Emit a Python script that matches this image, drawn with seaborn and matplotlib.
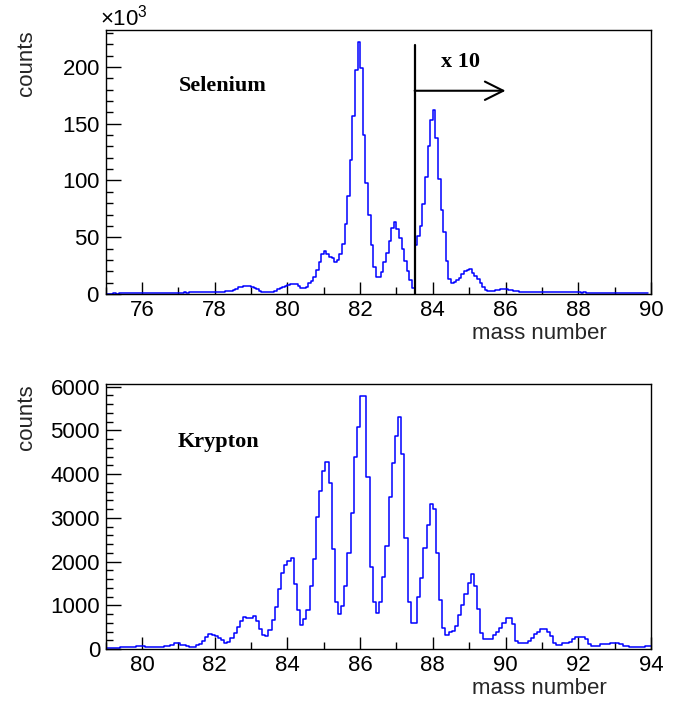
import numpy as np
import pandas as pd
import matplotlib
matplotlib.use("Agg")
import matplotlib.pyplot as plt
import seaborn as sns
from matplotlib.ticker import MultipleLocator, ScalarFormatter

# ---------------- data ----------------
# Selenium spectrum: displayed counts per bin in thousands (bins of 1/14 mass unit from 75;
# the part right of 83.5 is shown multiplied by 10, as in the original)
se_counts_k = [
    0.3, 0.4, 0.3, 0.5, 0.4, 0.5, 0.6, 0.5, 0.6, 0.7,
    0.6, 0.7, 0.8, 0.7, 0.8, 0.9, 0.8, 0.9, 1.0, 0.9,
    1.0, 1.1, 1.0, 1.1, 1.2, 1.1, 1.2, 1.3, 1.2, 1.3,
    1.4, 1.3, 1.4, 1.5, 1.4, 1.5, 1.6, 1.5, 1.6, 1.7,
    1.8, 1.9, 2.0, 2.0, 2.1, 2.2, 2.3, 2.5, 3.0, 3.8,
    4.8, 5.8, 6.6, 7.2, 7.4, 7.2, 6.5, 5.5, 4.2, 3.0,
    2.2, 1.6, 1.4, 1.5, 2.0, 3.0, 4.0, 5.0, 5.8, 7.0,
    8.2, 8.8, 8.8, 8.8, 7.0, 5.0, 5.0, 6.6, 9.6, 11.7,
    15, 21, 28, 35.5, 38, 35, 33, 31.6, 28, 29.8,
    35, 44, 62, 86, 118, 157, 197, 222, 199, 140,
    98, 70, 43, 24, 15, 15, 19, 28, 36, 47,
    58, 63, 57, 49, 40, 29, 20, 12, 5,
    43, 51, 60, 79, 103, 130, 153, 162, 137, 101,
    74, 55, 29, 13, 9.6, 10.7, 12, 14.5, 17.5, 20,
    21.5, 22, 18.6, 15.7, 13, 9.6, 5.8, 3.8, 2.9, 2.9,
    3.0, 3.2, 3.5, 4.0, 4.2, 4.2, 3.8, 3.3, 2.8, 2.3,
    2.0, 1.8, 1.7, 1.7, 1.6, 1.7, 1.6, 1.5, 1.6, 1.5,
    1.6, 1.7, 1.8, 1.9, 2.0, 2.0, 1.9, 1.8, 1.7, 1.6,
    1.5, 1.5, 1.4, 1.4, 1.3, 1.4, 1.3, 1.3, 1.2, 1.3,
    1.2, 1.2, 1.1, 1.2, 1.1, 1.1, 1.0, 1.1, 1.0, 1.0,
    1.0, 0.9, 1.0, 0.9, 0.9, 0.8, 0.9, 0.8, 0.8, 0.8,
]

# Krypton spectrum: counts per bin (bins of 2/23 mass unit, edges aligned on 84)
kr_counts = [
    23, 25, 25, 23, 25, 35, 40, 40, 42, 55,
    69, 69, 60, 53, 53, 50, 40, 38, 40, 60,
    69, 85, 130, 130, 100, 92, 70, 53, 55, 92,
    110, 191, 282, 343, 330, 300, 244, 206, 145, 170,
    244, 358, 511, 648, 740, 701, 701, 763, 648, 458,
    313, 297, 435, 664, 968, 1373, 1732, 1922, 2014, 2075,
    1488, 892, 549, 679, 892, 1442, 2060, 3013, 3623, 4081,
    4287, 3791, 2281, 1083, 793, 984, 1442, 2205, 3120, 4387,
    5066, 5789, 5789, 3929, 1869, 1083, 816, 1083, 1640, 2357,
    3471, 4264, 4875, 5302, 4463, 2532, 1083, 587, 587, 1182,
    1617, 2304, 2830, 3311, 3196, 2190, 1121, 473, 320, 400,
    419, 534, 778, 1007, 1251, 1518, 1709, 1442, 908, 374,
    221, 221, 221, 320, 397, 473, 603, 717, 717, 565,
    183, 145, 145, 145, 183, 244, 343, 397, 450, 450,
    397, 297, 130, 92, 92, 130, 130, 168, 221, 282,
    282, 282, 221, 114, 69, 69, 69, 107, 107, 107,
    130, 130, 130, 114, 69, 69, 53, 53, 53, 53,
    53, 76, 76,
]

se_xrange = (75, 90)
se_bins_per_unit = 14
kr_xrange = (79, 94)
kr_bin_width = 2 / 23
kr_first_edge = 84 - 58 * kr_bin_width

se_xticks = [76, 78, 80, 82, 84, 86, 88, 90]
kr_xticks = [80, 82, 84, 86, 88, 90, 92, 94]
se_yticks = [0, 50000, 100000, 150000, 200000]
kr_yticks = [0, 1000, 2000, 3000, 4000, 5000, 6000]

# ---------------- build tables ----------------
se_edges = se_xrange[0] + np.arange(len(se_counts_k) + 1) / se_bins_per_unit
se_df = pd.DataFrame({"mass": (se_edges[:-1] + se_edges[1:]) / 2,
                      "counts": np.array(se_counts_k) * 1000.0})
kr_edges = kr_first_edge + np.arange(len(kr_counts) + 1) * kr_bin_width
kr_df = pd.DataFrame({"mass": (kr_edges[:-1] + kr_edges[1:]) / 2,
                      "counts": np.array(kr_counts, dtype=float)})

# ---------------- style ----------------
sns.set_theme(style="ticks")
plt.rcParams["font.family"] = ["Liberation Sans", "DejaVu Sans"]
plt.rcParams["mathtext.fontset"] = "custom"
plt.rcParams["mathtext.rm"] = "Liberation Sans"
plt.rcParams["mathtext.it"] = "Liberation Sans:italic"
plt.rcParams["mathtext.bf"] = "Liberation Sans:bold"
plt.rcParams["axes.edgecolor"] = "black"
plt.rcParams["xtick.color"] = "black"
plt.rcParams["ytick.color"] = "black"
plt.rcParams["text.color"] = "black"

W, H = 686, 702
fig = plt.figure(figsize=(W / 100, H / 100), dpi=100)
ax1 = fig.add_axes([105.6 / W, 1 - 294 / H, 545.4 / W, 264 / H])
ax2 = fig.add_axes([105.6 / W, 1 - 649 / H, 545.4 / W, 265 / H])

blue = "#0000ff"
sns.histplot(data=se_df, x="mass", weights="counts", bins=list(se_edges),
             element="step", fill=False, color=blue, linewidth=1.1, ax=ax1)
sns.histplot(data=kr_df, x="mass", weights="counts", bins=list(kr_edges),
             element="step", fill=False, color=blue, linewidth=1.1, ax=ax2)

ax1.set_xlim(*se_xrange)
ax1.set_ylim(0, 232500)
ax2.set_xlim(*kr_xrange)
ax2.set_ylim(0, 6060)

for ax, xt, yt, ymin in ((ax1, se_xticks, se_yticks, 10000), (ax2, kr_xticks, kr_yticks, 200)):
    ax.set_xticks(xt)
    ax.set_yticks(yt)
    ax.xaxis.set_minor_locator(MultipleLocator(1))
    ax.yaxis.set_minor_locator(MultipleLocator(ymin))
    ax.tick_params(which="both", direction="in", top=False, right=False, width=1.0)
    ax.tick_params(axis="x", which="major", length=8.5, labelsize=16, pad=4.5)
    ax.tick_params(axis="y", which="major", length=10.5, labelsize=16, pad=4)
    ax.tick_params(which="minor", length=5)
    for s in ax.spines.values():
        s.set_visible(True)
        s.set_color("black")
        s.set_linewidth(1.0)
    ax.set_xlabel("mass number", fontsize=16, loc="right")
    ax.xaxis.set_label_coords(0.918, -0.11)
    ax.set_ylabel("counts", fontsize=16, loc="top")
    ax.yaxis.set_label_coords(-0.125, 1.0)
    ax.grid(False)

fmt = ScalarFormatter(useMathText=True)
fmt.set_powerlimits((3, 3))
ax1.yaxis.set_major_formatter(fmt)
ax1.yaxis.get_offset_text().set_fontsize(16)
ax1.yaxis.get_offset_text().set_x(-0.01)

# annotations
serif = ["Liberation Serif", "DejaVu Serif"]
ax1.text(77.0, 178800, "Selenium", fontfamily=serif, fontweight="bold",
         fontsize=16, ha="left", va="baseline")
ax1.text(84.23, 200000, "x 10", fontfamily=serif, fontweight="bold",
         fontsize=16, ha="left", va="baseline")
ax1.plot([83.5, 83.5], [0, 219000], color="black", lw=1.6)
ax1.annotate("", xy=(86.0, 179000), xytext=(83.5, 179000),
             arrowprops=dict(arrowstyle="->,head_length=1.1,head_width=0.55",
                             lw=1.5, color="black", shrinkA=0, shrinkB=0))
ax2.text(80.97, 4630, "Krypton", fontfamily=serif, fontweight="bold",
         fontsize=16, ha="left", va="baseline")

fig.savefig("out.png", dpi=100)
